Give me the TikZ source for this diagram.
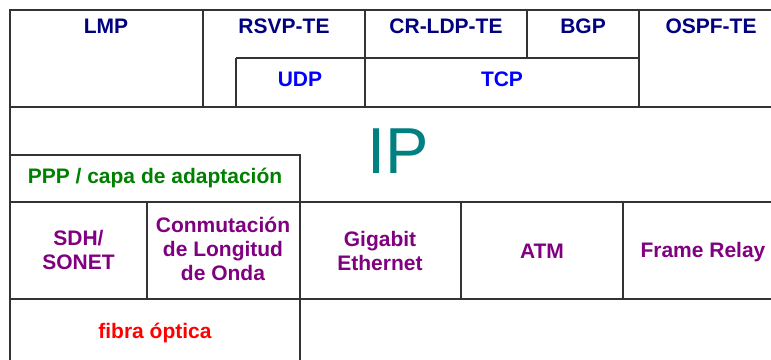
\documentclass[tikz,border=0pt]{standalone}
\usepackage{fontspec}
\setmainfont{Liberation Sans}
\definecolor{navyproto}{RGB}{0,0,128}
\definecolor{blueproto}{RGB}{0,0,255}
\definecolor{tealproto}{RGB}{0,128,128}
\definecolor{greenproto}{RGB}{0,128,0}
\definecolor{purpleproto}{RGB}{128,0,128}
\definecolor{redproto}{RGB}{255,0,0}

\begin{document}
\begin{tikzpicture}[
  x=0.75pt,y=-0.75pt,
  grid/.style={draw=black!80,line width=1.3pt},
  lbl/.style={font=\bfseries\fontsize{15.75}{18}\selectfont,
    align=center,inner sep=0pt,anchor=base},
  signal/.style={lbl,text=navyproto},
  transport/.style={lbl,text=blueproto},
  link/.style={lbl,text=purpleproto}
]
\useasboundingbox (0,0) rectangle (771,360);
% cell borders
\draw[grid] (771,10) -- (10,10) -- (10,360);
\draw[grid] (10,107) -- (771,107);
\draw[grid] (236,58) -- (639,58);
\draw[grid] (203,10) -- (203,107);
\draw[grid] (236,58) -- (236,107);
\draw[grid] (365,10) -- (365,107);
\draw[grid] (527,10) -- (527,58);
\draw[grid] (639,10) -- (639,107);
\draw[grid] (10,155) -- (300,155) -- (300,202);
\draw[grid] (10,202) -- (771,202);
\draw[grid] (147,202) -- (147,299);
\draw[grid] (300,202) -- (300,360);
\draw[grid] (461,202) -- (461,299);
\draw[grid] (623,202) -- (623,299);
\draw[grid] (10,299) -- (771,299);
% control plane
\node[signal] (lmp) at (106,34) {LMP};
\node[signal] (rsvp) at (284,34) {RSVP-TE};
\node[signal] (crldp) at (446,34) {CR-LDP-TE};
\node[signal] (bgp) at (583,34) {BGP};
\node[signal] (ospf) at (711,34) {OSPF-TE};
\node[transport] (udp) at (300,87) {UDP};
\node[transport] (tcp) at (502,87) {TCP};
% network layer
\node[inner sep=0pt,anchor=base,text=tealproto,
  font=\fontsize{48.75}{50}\selectfont] (ip) at (398,173) {IP};
\node[lbl,text=greenproto] (ppp) at (155,183) {PPP / capa de adaptación};
% link layer (base = last line)
\node[link] (sdh) at (78.5,269) {SDH/\\SONET};
\node[link] (lambda) at (223,280) {Conmutación\\de Longitud\\de Onda};
\node[link] (gbe) at (380,270) {Gigabit\\Ethernet};
\node[link] (atm) at (542,258) {ATM};
\node[link] (fr) at (703,257) {Frame Relay};
\node[lbl,text=redproto] (fibra) at (155,338) {fibra óptica};
\end{tikzpicture}
\end{document}
